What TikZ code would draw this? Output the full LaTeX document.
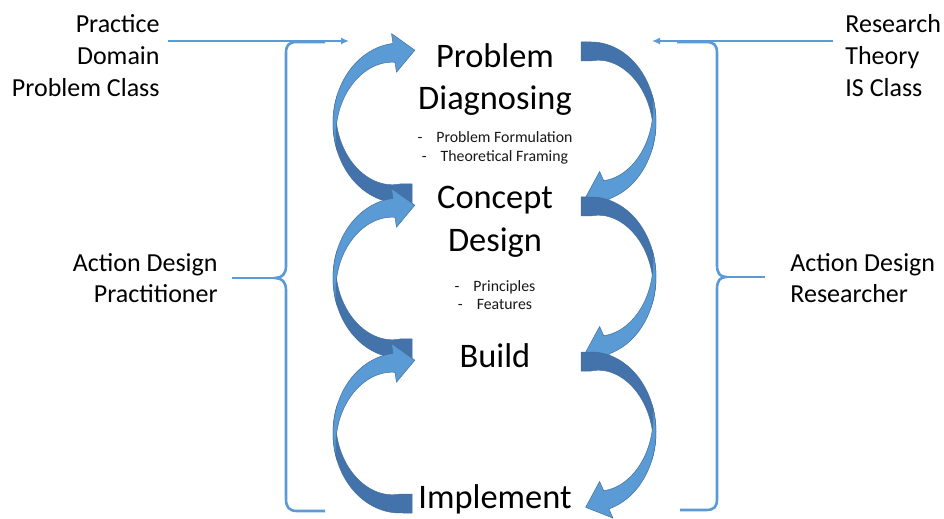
\documentclass[tikz,border=0pt]{standalone}
\usepackage{fontspec}
\setmainfont{Carlito}
\usetikzlibrary{arrows.meta}

\definecolor{ribbonlight}{RGB}{91,155,213}
\definecolor{ribbondark}{RGB}{68,114,170}
\definecolor{ribbonedge}{RGB}{65,113,156}
\definecolor{linkblue}{RGB}{91,155,213}

\begin{document}
\begin{tikzpicture}[x=0.5pt,y=-0.5pt,
  bigtxt/.style={font=\fontsize{17.2}{20}\selectfont, inner sep=0pt, anchor=base},
  subtxt/.style={font=\fontsize{7.9}{9.5}\selectfont, inner sep=0pt, anchor=base, text=black!90},
  sidetxt/.style={font=\fontsize{13}{15.5}\selectfont, inner sep=0pt},
  feed/.style={draw=linkblue, line width=1.3pt, -{Latex[length=4pt,width=3.6pt]}},
  brace/.style={draw=linkblue, line width=1.3pt},
  lightband/.style={fill=ribbonlight, draw=ribbonedge, line width=0.25pt, line join=round},
  darkband/.style={fill=ribbondark, draw=ribbonedge, line width=0.25pt, line join=round},
  % curved ribbon arrow on the left: tail at the bottom, head at the top pointing right
  pics/lcurve/.style={code={
    \path[darkband]
      plot[domain=160:270,samples=50] ({67*cos(\x)},{-80*sin(\x)})
      -- (12,80) -- (12,61)
      -- plot[domain=270:160,samples=50]
         ({(67-19*(\x-160)/110)*cos(\x)},{-(80-19*(\x-160)/110)*sin(\x)})
      -- cycle;
    \path[lightband]
      (-3.52,-50.78) -- (14.82,-72.8) -- (-8.50,-89.46) -- (-7.0,-79.56)
      -- plot[domain=96:200,samples=50] ({67*cos(\x)},{-80*sin(\x)})
      -- plot[domain=200:96,samples=50]
         ({(67-19*(200-\x)/104)*cos(\x)},{-(80-19*(200-\x)/104)*sin(\x)})
      -- cycle;
  }},
  % curved ribbon arrow on the right: tail at the top, head at the bottom pointing left
  pics/rcurve/.style={code={
    \path[darkband]
      (-10,-80) -- (-10,-61)
      -- plot[domain=90:-20,samples=50]
         ({(65-19*(\x+20)/110)*cos(\x)},{-(80-19*(\x+20)/110)*sin(\x)})
      -- plot[domain=-20:90,samples=50] ({65*cos(\x)},{-80*sin(\x)})
      -- cycle;
    \path[lightband]
      plot[domain=20:-74,samples=50] ({65*cos(\x)},{-80*sin(\x)})
      -- (21.97,86.09) -- (-5.37,75.3) -- (8.63,49.45) -- (12.68,58.64)
      -- plot[domain=-74:20,samples=50]
         ({(65-19*(20-\x)/94)*cos(\x)},{-(80-19*(20-\x)/94)*sin(\x)})
      -- cycle;
  }}
]
\useasboundingbox (0,0) rectangle (944,519);
\fill[white] (0,0) rectangle (944,519);

% ribbons down the left side
\pic at (400,123) {lcurve};
\pic at (400,278) {lcurve};
\pic at (400,433) {lcurve};
% ribbons down the right side
\pic at (591,122) {rcurve};
\pic at (591,277) {rcurve};
\pic at (591,432) {rcurve};

% stage titles and their notes
\node[bigtxt] (pd1) at (495,68) {Problem};
\node[bigtxt] (pd2) at (495,110) {Diagnosing};
\node[subtxt] (pdb1) at (495,143) {-\hspace{7pt}Problem Formulation};
\node[subtxt] (pdb2) at (495,162) {-\hspace{7pt}Theoretical Framing};
\node[bigtxt] (cd1) at (495,209) {Concept};
\node[bigtxt] (cd2) at (495,252) {Design};
\node[subtxt] (cdb1) at (495,292) {-\hspace{7pt}Principles};
\node[subtxt] (cdb2) at (495,310) {-\hspace{7pt}Features};
\node[bigtxt] (bld) at (495,367) {Build};
\node[bigtxt] (impl) at (495,509) {Implement};

% inputs at the top corners
\node[sidetxt, anchor=base east] (pr1) at (160,33) {Practice};
\node[sidetxt, anchor=base east] (pr2) at (160,65) {Domain};
\node[sidetxt, anchor=base east] (pr3) at (160,97) {Problem Class};
\node[sidetxt, anchor=base west] (rs1) at (845,33) {Research};
\node[sidetxt, anchor=base west] (rs2) at (845,65) {Theory};
\node[sidetxt, anchor=base west] (rs3) at (845,97) {IS Class};

% roles beside the braces
\node[sidetxt, anchor=base east] (ap1) at (218,271) {Action Design};
\node[sidetxt, anchor=base east] (ap2) at (218,302) {Practitioner};
\node[sidetxt, anchor=base west] (ar1) at (790,271) {Action Design};
\node[sidetxt, anchor=base west] (ar2) at (790,302) {Researcher};

% input arrows
\coordinate (pin) at (168,41);
\coordinate (pend) at (349,41);
\coordinate (rin) at (833,41);
\coordinate (rend) at (652,41);
\draw[feed] (pin) -- (pend);
\draw[feed] (rin) -- (rend);

% left brace
\coordinate (lnotch) at (275,278);
\coordinate (ltick) at (232,278);
\draw[brace] (325,42) -- (297,42) .. controls (289,42) and (286,45) .. (286,53)
  -- (286,266) .. controls (286,274) and (282,278) .. (lnotch)
  .. controls (282,278) and (286,282) .. (286,290)
  -- (286,499) .. controls (286,507) and (289,511) .. (297,511) -- (325,511);
\draw[brace] (ltick) -- (lnotch);

% right brace
\coordinate (rnotch) at (726,277);
\coordinate (rtick) at (765,277);
\draw[brace] (677,42) -- (706,42) .. controls (714,42) and (717,45) .. (717,53)
  -- (717,265) .. controls (717,273) and (720,277) .. (rnotch)
  .. controls (720,277) and (717,281) .. (717,289)
  -- (717,499) .. controls (717,507) and (714,510) .. (706,510) -- (680,510);
\draw[brace] (rnotch) -- (rtick);
\end{tikzpicture}
\end{document}
